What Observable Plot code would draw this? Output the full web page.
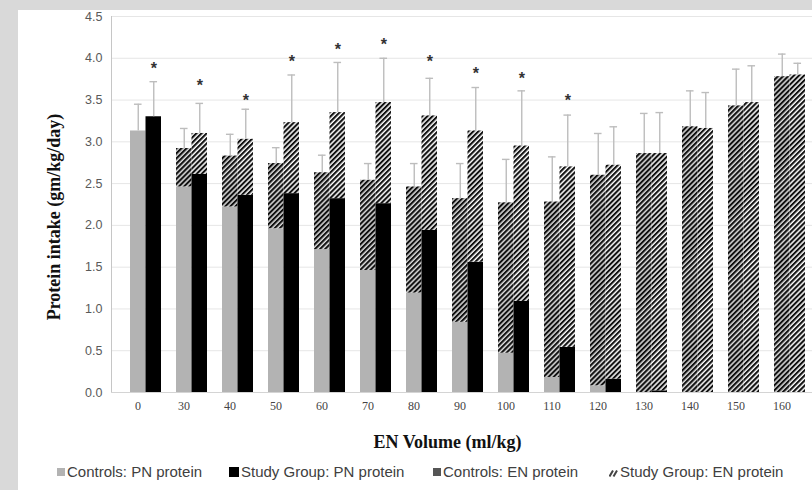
<!DOCTYPE html>
<html><head><meta charset="utf-8">
<script src="https://cdn.jsdelivr.net/npm/d3@7"></script>
<script src="https://cdn.jsdelivr.net/npm/@observablehq/plot@0.6"></script>
<style>
html,body{margin:0;padding:0;background:#d9d9d9;width:812px;height:490px;overflow:hidden;}
#frame{position:absolute;left:18px;top:10px;width:794px;height:480px;background:#fff;overflow:hidden;}
#chart{position:absolute;left:0;top:0;}
#legend{position:absolute;top:452px;left:0;width:794px;height:20px;font:15px "Liberation Sans",Arial,sans-serif;color:#404040;}
.item{position:absolute;top:0;height:20px;line-height:20px;white-space:nowrap;display:flex;align-items:center;}
.sw{display:inline-block;margin-right:2px;}
</style></head>
<body><div id="frame"><div id="chart"></div><div id="legend"></div></div>
<script>
// ---- data ----
const categories = [0, 30, 40, 50, 60, 70, 80, 90, 100, 110, 120, 130, 140, 150, 160];
const controlsPN = [3.13, 2.46, 2.22, 1.96, 1.71, 1.46, 1.19, 0.84, 0.47, 0.18, 0.08, 0.00, 0.00, 0.00, 0.00];
const controlsEN = [0.00, 0.46, 0.61, 0.78, 0.92, 1.08, 1.27, 1.48, 1.80, 2.10, 2.52, 2.86, 3.18, 3.43, 3.78];
const controlsSD = [0.32, 0.24, 0.26, 0.19, 0.21, 0.20, 0.28, 0.42, 0.52, 0.54, 0.50, 0.48, 0.43, 0.44, 0.27];
const studyPN    = [3.30, 2.61, 2.36, 2.38, 2.32, 2.26, 1.94, 1.56, 1.09, 0.54, 0.16, 0.02, 0.00, 0.00, 0.00];
const studyEN    = [0.00, 0.49, 0.67, 0.85, 1.03, 1.21, 1.37, 1.57, 1.86, 2.16, 2.56, 2.84, 3.16, 3.47, 3.80];
const studySD    = [0.42, 0.36, 0.36, 0.57, 0.60, 0.53, 0.45, 0.52, 0.66, 0.62, 0.46, 0.49, 0.43, 0.44, 0.14];
// height of the significance asterisk (null = not significant)
const sigHeight  = [3.92, 3.72, 3.54, 4.01, 4.15, 4.21, 4.00, 3.86, 3.80, 3.54, null, null, null, null, null];
const yTicks = [0, 0.5, 1, 1.5, 2, 2.5, 3, 3.5, 4, 4.5];
const yLabel = "Protein intake (gm/kg/day)";
const xLabel = "EN Volume (ml/kg)";
const legendLabels = ["Controls: PN protein", "Study Group: PN protein", "Controls: EN protein", "Study Group: EN protein"];

const rows = categories.map((c, i) => ({
  cat: String(c),
  cPN: controlsPN[i], cTot: controlsPN[i] + controlsEN[i], cSD: controlsSD[i],
  sPN: studyPN[i], sTot: studyPN[i] + studyEN[i], sSD: studySD[i],
  sig: sigHeight[i]
}));

const half = 15.5;      // half of the pair width
const capIn = 3.8;      // cap half-width offset
const serif = "Liberation Serif, Times New Roman, serif";
const sans = "Liberation Sans, Arial, sans-serif";
const errColor = "#bdbdbd";

const chart = Plot.plot({
  width: 794, height: 440,
  marginLeft: 93, marginRight: 0, marginTop: 6, marginBottom: 58,
  style: {fontFamily: sans, background: "#fff", overflow: "visible"},
  x: {type: "band", domain: categories.map(String), range: [93.5, 806], paddingInner: 1/3, paddingOuter: 1/3, label: null},
  y: {domain: [0, 4.5], label: null},
  marks: [
    Plot.gridY(yTicks, {stroke: "#e6e6e6", strokeOpacity: 1}),
    Plot.frame({anchor: "left", stroke: "#c6c6c6"}),
    Plot.barY(rows, {x: "cat", y1: 0, y2: "cPN", fill: "#b3b3b3", insetRight: half}),
    Plot.barY(rows, {x: "cat", y1: "cPN", y2: "cTot", fill: "url(#hatchC)", insetRight: half}),
    Plot.barY(rows, {x: "cat", y1: 0, y2: "sPN", fill: "#000", insetLeft: half}),
    Plot.barY(rows, {x: "cat", y1: "sPN", y2: "sTot", fill: "url(#hatchS)", insetLeft: half}),
    Plot.ruleY([0], {stroke: "#d4d4d4"}),
    Plot.ruleX(rows, {x: "cat", y1: "cTot", y2: d => d.cTot + d.cSD, dx: -half / 2, stroke: errColor, strokeWidth: 1.4}),
    Plot.tickY(rows, {x: "cat", y: d => d.cTot + d.cSD, insetLeft: half / 2 - capIn, insetRight: half + half / 2 - capIn, stroke: errColor, strokeWidth: 1.4}),
    Plot.ruleX(rows, {x: "cat", y1: "sTot", y2: d => d.sTot + d.sSD, dx: half / 2, stroke: errColor, strokeWidth: 1.4}),
    Plot.tickY(rows, {x: "cat", y: d => d.sTot + d.sSD, insetLeft: half + half / 2 - capIn, insetRight: half / 2 - capIn, stroke: errColor, strokeWidth: 1.4}),
    Plot.text(rows.filter(d => d.sig != null), {x: "cat", y: "sig", text: () => "*", dx: half / 2, dy: 4, fontSize: 16, fontWeight: "bold", fontFamily: sans, fill: "#333", lineAnchor: "middle"}),
    Plot.axisY({ticks: yTicks, tickSize: 0, tickPadding: 9, tickFormat: d3.format(".1f"), fontSize: 12.5, fontFamily: sans, color: "#595959", label: null}),
    Plot.axisX({tickSize: 0, tickPadding: 9, dx: -8, fontSize: 12, fontFamily: serif, color: "#444", label: null}),
    Plot.text([yLabel], {text: d => d, frameAnchor: "left", rotate: -90, dx: -57, dy: 12.5, textAnchor: "middle", lineAnchor: "middle", fontFamily: serif, fontWeight: "bold", fontSize: 18, fill: "#111"}),
    Plot.text([xLabel], {text: d => d, frameAnchor: "bottom", dx: -14.5, dy: 49.7, textAnchor: "middle", lineAnchor: "middle", fontFamily: serif, fontWeight: "bold", fontSize: 18, fill: "#111"})
  ]
});

d3.select(chart).insert("defs", ":first-child").html(`
  <pattern id="hatchS" patternUnits="userSpaceOnUse" width="3.6" height="3.6" patternTransform="rotate(45)">
    <rect width="3.6" height="3.6" fill="#ffffff"/><rect width="2.1" height="3.6" fill="#111"/>
  </pattern>
  <pattern id="hatchC" patternUnits="userSpaceOnUse" width="3.6" height="3.6" patternTransform="rotate(45)">
    <rect width="3.6" height="3.6" fill="#dedede"/><rect width="2.1" height="3.6" fill="#111"/>
  </pattern>`);
document.getElementById("chart").appendChild(chart);

// ---- legend ----
const swatches = [
  `<svg class="sw" width="8" height="8"><rect width="8" height="8" fill="#b3b3b3"/></svg>`,
  `<svg class="sw" width="10" height="10"><rect width="10" height="10" fill="#000"/></svg>`,
  `<svg class="sw" width="8" height="8"><rect width="8" height="8" fill="#555"/></svg>`,
  `<svg class="sw" width="9" height="9"><path d="M0.5 8.5 L4 2.5 M4.5 8.5 L8 2.5" stroke="#444" stroke-width="2"/></svg>`
];
const legendX = [39, 211, 415, 591];
const legend = document.getElementById("legend");
legendLabels.forEach((t, i) => {
  const el = document.createElement("div");
  el.className = "item";
  el.style.left = legendX[i] + "px";
  el.innerHTML = swatches[i] + `<span>${t}</span>`;
  legend.appendChild(el);
});
</script>
</body></html>
